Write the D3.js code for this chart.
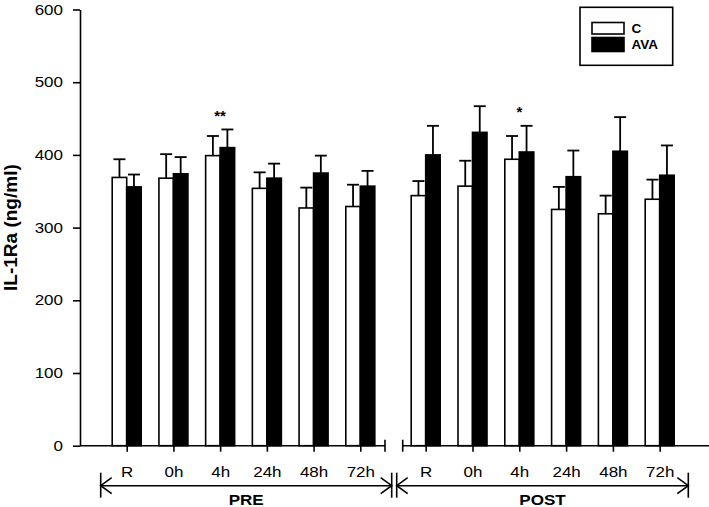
<!DOCTYPE html>
<html>
<head>
<meta charset="utf-8">
<script src="https://cdn.jsdelivr.net/npm/d3@7"></script>
<style>
  html, body { margin: 0; padding: 0; background: #fff; }
  svg { display: block; font-family: Arial, "Liberation Sans", Helvetica, sans-serif; }
</style>
</head>
<body>
<svg id="chart" width="709" height="507"></svg>
<script>
// ---- data ----
const categories = ["R", "0h", "4h", "24h", "48h", "72h"];
const phases = ["PRE", "POST"];
const seriesNames = ["C", "AVA"];
const cPre = [369, 368, 399, 354, 327, 329];
const cPreErr = [25, 33, 27, 22, 28, 30];
const avaPre = [356, 374, 410, 368, 375, 357];
const avaPreErr = [17, 23, 25, 20, 24, 21];
const cPost = [344, 357, 394, 325, 319, 339];
const cPostErr = [20, 35, 32, 31, 25, 27];
const avaPost = [400, 431, 404, 370, 405, 372];
const avaPostErr = [40, 36, 36, 36, 47, 41];
const significance = [
  { phase: "PRE", cat: "4h", label: "**" },
  { phase: "POST", cat: "4h", label: "*" }
];
const yTicks = [0, 100, 200, 300, 400, 500, 600];
const yLabel = "IL-1Ra (ng/ml)";

// ---- helpers ----
function stretch(sel, f) {
  sel.each(function () {
    const len = this.getComputedTextLength();
    d3.select(this).attr("textLength", len * f).attr("lengthAdjust", "spacingAndGlyphs");
  });
}

// ---- layout ----
const svg = d3.select("#chart");
const axisX = 80;
const y = d3.scaleLinear().domain([0, 600]).range([445.7, 9.5]);
const xPhase = {
  PRE: d3.scalePoint().domain(categories).range([126.7, 360.3]),
  POST: d3.scalePoint().domain(categories).range([425.7, 659.7])
};
const barW = 14.5;
const capHalf = 6;
const strokeW = 1.6;
const SX = 1.17;

const rows = [];
const dataMap = {
  PRE: [cPre, cPreErr, avaPre, avaPreErr],
  POST: [cPost, cPostErr, avaPost, avaPostErr]
};
phases.forEach(p => {
  const [cv, ce, av, ae] = dataMap[p];
  categories.forEach((c, i) => {
    rows.push({ phase: p, cat: c, series: "C", value: cv[i], err: ce[i], off: -barW });
    rows.push({ phase: p, cat: c, series: "AVA", value: av[i], err: ae[i], off: 0 });
  });
});

// error bars
const eb = svg.append("g");
rows.forEach(d => {
  const cx = xPhase[d.phase](d.cat) + d.off + barW / 2;
  eb.append("line").attr("x1", cx).attr("x2", cx)
    .attr("y1", y(d.value)).attr("y2", y(d.value + d.err))
    .attr("stroke", "#000").attr("stroke-width", 1.8);
  eb.append("line").attr("x1", cx - capHalf).attr("x2", cx + capHalf)
    .attr("y1", y(d.value + d.err)).attr("y2", y(d.value + d.err))
    .attr("stroke", "#000").attr("stroke-width", 1.8);
});

// bars
svg.append("g").selectAll("rect").data(rows).join("rect")
  .attr("x", d => xPhase[d.phase](d.cat) + d.off)
  .attr("y", d => y(d.value))
  .attr("width", barW)
  .attr("height", d => y(0) - y(d.value))
  .attr("fill", d => d.series === "C" ? "#fff" : "#000")
  .attr("stroke", "#000")
  .attr("stroke-width", strokeW);

// significance marks
svg.append("g").selectAll("text").data(significance).join("text")
  .attr("x", d => xPhase[d.phase](d.cat))
  .attr("y", d => d.label === "**" ? 121 : 117)
  .attr("text-anchor", "middle")
  .attr("font-size", 15).attr("font-weight", "bold")
  .text(d => d.label);

// y axis
const yAxis = d3.axisLeft(y).tickValues(yTicks).tickSize(7).tickPadding(10).tickSizeOuter(0);
const gy = svg.append("g").attr("transform", `translate(${axisX},0)`).call(yAxis);
gy.select(".domain").attr("stroke", "#000").attr("stroke-width", strokeW);
gy.selectAll(".tick line").attr("stroke", "#000").attr("stroke-width", strokeW);
gy.selectAll(".tick text").attr("font-size", 14.5).attr("fill", "#000")
  .attr("font-family", "Arial, 'Liberation Sans', sans-serif")
  .call(stretch, SX);

svg.append("text")
  .attr("transform", `translate(17,${(y(0) + y(600)) / 2}) rotate(-90)`)
  .attr("text-anchor", "middle")
  .attr("font-size", 19).attr("font-weight", "bold")
  .text(yLabel);

// x axis segments with break
const base = y(0);
const segs = [
  { phase: "PRE", x1: axisX, x2: 385, endTickLeft: null, endTickRight: 385 },
  { phase: "POST", x1: 402.7, x2: 709, endTickLeft: 402.7, endTickRight: null }
];
segs.forEach(s => {
  const g = svg.append("g");
  g.append("line").attr("x1", s.x1).attr("x2", s.x2).attr("y1", base).attr("y2", base)
    .attr("stroke", "#000").attr("stroke-width", strokeW);
  [s.endTickLeft, s.endTickRight].forEach(t => {
    if (t !== null) g.append("line").attr("x1", t).attr("x2", t)
      .attr("y1", base - 6).attr("y2", base + 6)
      .attr("stroke", "#000").attr("stroke-width", strokeW);
  });
  const xa = d3.axisBottom(xPhase[s.phase]).tickSize(6).tickPadding(15).tickSizeOuter(0);
  const gx = g.append("g").attr("transform", `translate(0,${base})`).call(xa);
  gx.select(".domain").remove();
  gx.selectAll(".tick line").attr("stroke", "#000").attr("stroke-width", strokeW);
  gx.selectAll(".tick text").attr("font-size", 14.5).attr("fill", "#000")
    .attr("font-family", "Arial, 'Liberation Sans', sans-serif")
    .call(stretch, SX);
});

// phase brackets with arrows
const arrowY = 485.7;
const brackets = [
  { phase: "PRE", left: 100.7, right: 391.7 },
  { phase: "POST", left: 396.7, right: 688.3 }
];
brackets.forEach(b => {
  const g = svg.append("g").attr("stroke", "#000").attr("stroke-width", strokeW).attr("fill", "none");
  g.append("line").attr("x1", b.left).attr("x2", b.right).attr("y1", arrowY).attr("y2", arrowY);
  [b.left, b.right].forEach(xv => {
    g.append("line").attr("x1", xv).attr("x2", xv).attr("y1", arrowY - 13).attr("y2", arrowY + 12);
  });
  g.append("path").attr("d", `M${b.left + 11},${arrowY - 8}L${b.left},${arrowY}L${b.left + 11},${arrowY + 8}`);
  g.append("path").attr("d", `M${b.right - 11},${arrowY - 8}L${b.right},${arrowY}L${b.right - 11},${arrowY + 8}`);
  svg.append("text")
    .attr("x", (b.left + b.right) / 2).attr("y", 505)
    .attr("text-anchor", "middle").attr("font-size", 15.5).attr("font-weight", "bold")
    .text(b.phase)
    .call(stretch, 1.1);
});

// legend
const lg = svg.append("g");
lg.append("rect").attr("x", 580).attr("y", 7.3).attr("width", 92.7).attr("height", 58)
  .attr("fill", "#fff").attr("stroke", "#000").attr("stroke-width", strokeW);
seriesNames.forEach((n, i) => {
  lg.append("rect").attr("x", 592).attr("y", i === 0 ? 22.5 : 37.5)
    .attr("width", 32).attr("height", i === 0 ? 11.5 : 14)
    .attr("fill", n === "C" ? "#fff" : "#000").attr("stroke", "#000").attr("stroke-width", strokeW);
  lg.append("text").attr("x", 631.5).attr("y", i === 0 ? 32.5 : 49)
    .attr("font-size", 12.5).attr("font-weight", "bold").text(n)
    .call(stretch, 1.08);
});
</script>
</body>
</html>
